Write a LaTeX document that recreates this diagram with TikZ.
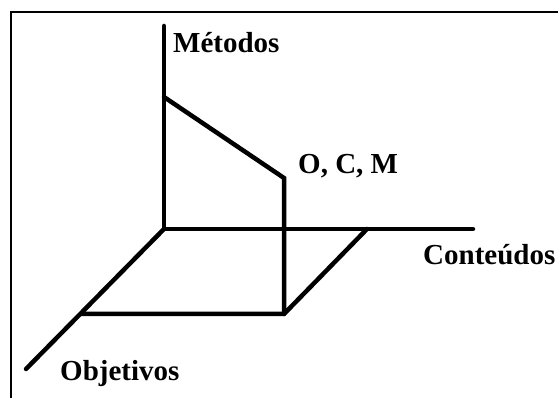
\documentclass[tikz,border=0pt]{standalone}
\usepackage{fontspec}
\setmainfont{Liberation Serif}
\begin{document}
\begin{tikzpicture}[x=1pt,y=-1pt,
  axis/.style={line width=4.5pt,line cap=round,line join=miter},
  lbl/.style={font=\fontsize{29}{33}\selectfont\bfseries,inner sep=0pt}]
\useasboundingbox (0,0) rectangle (558,398);
\draw[line width=1.2pt] (11,398) -- (11,12) -- (558,12);
\coordinate (O) at (164,229);
\coordinate (Mtop) at (164,26);
\coordinate (Cend) at (473,229);
\coordinate (Oend) at (26,369);
\coordinate (P1) at (367,229);
\coordinate (P2) at (284,314);
\coordinate (P3) at (81,314);
\coordinate (Q) at (284,178);
\coordinate (R) at (164,97);
\draw[axis] (Mtop) -- (O);
\draw[axis] (O) -- (Cend);
\draw[axis] (O) -- (Oend);
\draw[axis] (P1) -- (P2) -- (P3);
\draw[axis] (P2) -- (Q) -- (R);
\node[lbl,anchor=base west] (met) at (173,53) {Métodos};
\node[lbl,anchor=base west] (ocm) at (298,174) {O, C, M};
\node[lbl,anchor=base west] (con) at (423,265) {Conteúdos};
\node[lbl,anchor=base west] (obj) at (60,381) {Objetivos};
\end{tikzpicture}
\end{document}
